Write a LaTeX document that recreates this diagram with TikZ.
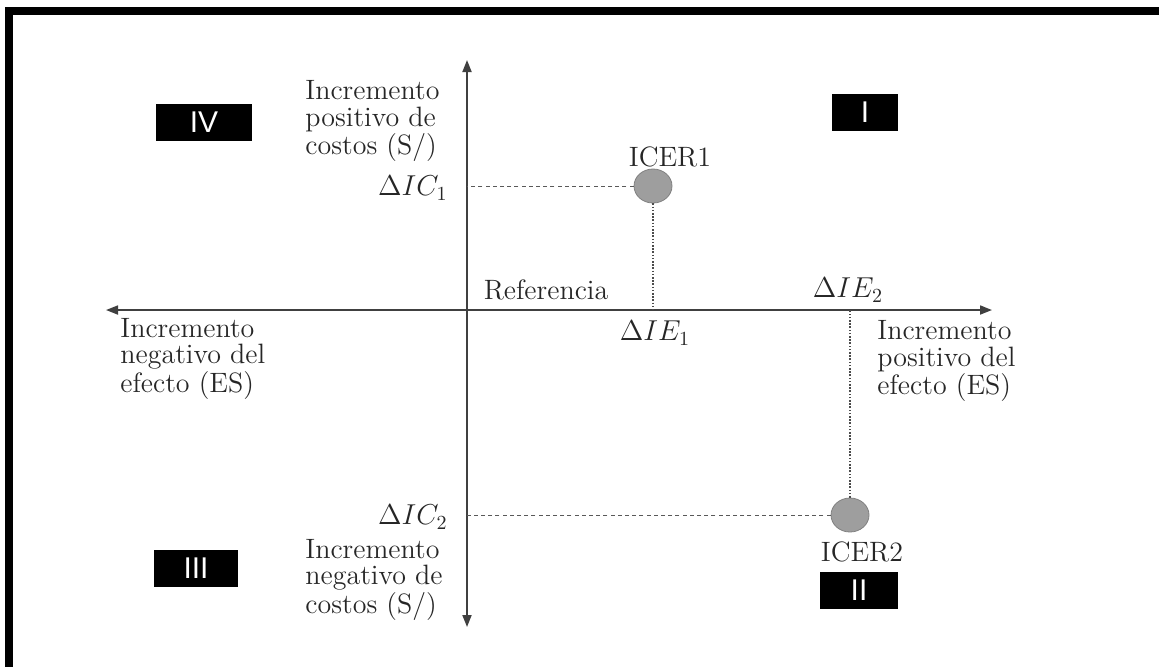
\documentclass[tikz,border=0pt]{standalone}
\usepackage{fontspec}
\newfontfamily\romanfont{Liberation Sans}
\usetikzlibrary{arrows.meta,shapes.geometric}

\begin{document}
\begin{tikzpicture}[x=.5pt,y=-.5pt,
    txt/.style={text=black!85,font=\fontsize{14}{13.2}\selectfont,inner sep=0pt,align=left},
    quad/.style={fill=black,text=white,font=\romanfont\fontsize{15}{15}\selectfont,inner sep=0pt,minimum height=18.5pt},
    icer/.style={ellipse,draw=black!50,fill=black!38,inner sep=0pt,minimum width=19pt,minimum height=17pt},
    axis/.style={draw=black!75,line width=.9pt,{Triangle[length=6pt,width=4.5pt]}-{Triangle[length=6pt,width=4.5pt]}},
    guide/.style={draw=black!65,line width=.5pt,dash pattern=on 2pt off 1.6pt},
    guidev/.style={draw=black!70,line width=.6pt,dash pattern=on .8pt off .8pt}]

  \useasboundingbox (0,0) rectangle (1159,666);
  %% Frame (only the top and left sides show)
  \draw[line width=4pt] (9,700) -- (9,11) -- (1200,11);

  %% Axes
  \coordinate (O) at (467,310);
  \coordinate (xl) at (106,310);
  \coordinate (xr) at (992,310);
  \coordinate (yt) at (467,60);
  \coordinate (yb) at (467,627);
  \draw[axis] (xl) -- (xr);
  \draw[axis] (yb) -- (yt);

  %% ICER points and guide lines
  \node[icer] (icer1) at (653,186) {};
  \node[icer] (icer2) at (850,515) {};
  \draw[guide] (icer1.west) -- (icer1.west -| O);
  \draw[guidev] (icer1.south) -- (icer1.south |- O);
  \draw[guide] (icer2.west) -- (icer2.west -| O);
  \draw[guidev] (icer2.north) -- (icer2.north |- O);

  %% Labels
  \node[txt] (icer1lbl) at (670,157) {ICER1};
  \node[txt] (icer2lbl) at (862,552) {ICER2};
  \node[txt,anchor=east] (dic1) at (448,188) {$\Delta IC_1$};
  \node[txt,anchor=east] (dic2) at (448,517) {$\Delta IC_2$};
  \node[txt] (die1) at (655,333) {$\Delta IE_1$};
  \node[txt] (die2) at (848,290) {$\Delta IE_2$};
  \node[txt] (ref) at (546,290) {Referencia};
  \node[txt,anchor=west] (costpos) at (305,121) {Incremento\\positivo de\\costos (S/)};
  \node[txt,anchor=west] (costneg) at (305,580) {Incremento\\negativo de\\costos (S/)};
  \node[txt,anchor=west] (efneg) at (120,359) {Incremento\\negativo del\\efecto (ES)};
  \node[txt,anchor=west] (efpos) at (877,361) {Incremento\\positivo del\\efecto (ES)};

  %% Quadrant boxes
  \foreach \q/\x/\y/\w in {I/865/112/66,II/859/590/78,III/196/568/84,IV/204/122/96}{
    \node[quad,minimum width=\w*.5pt] (q\q) at (\x,\y) {\q};
  }
\end{tikzpicture}
\end{document}
